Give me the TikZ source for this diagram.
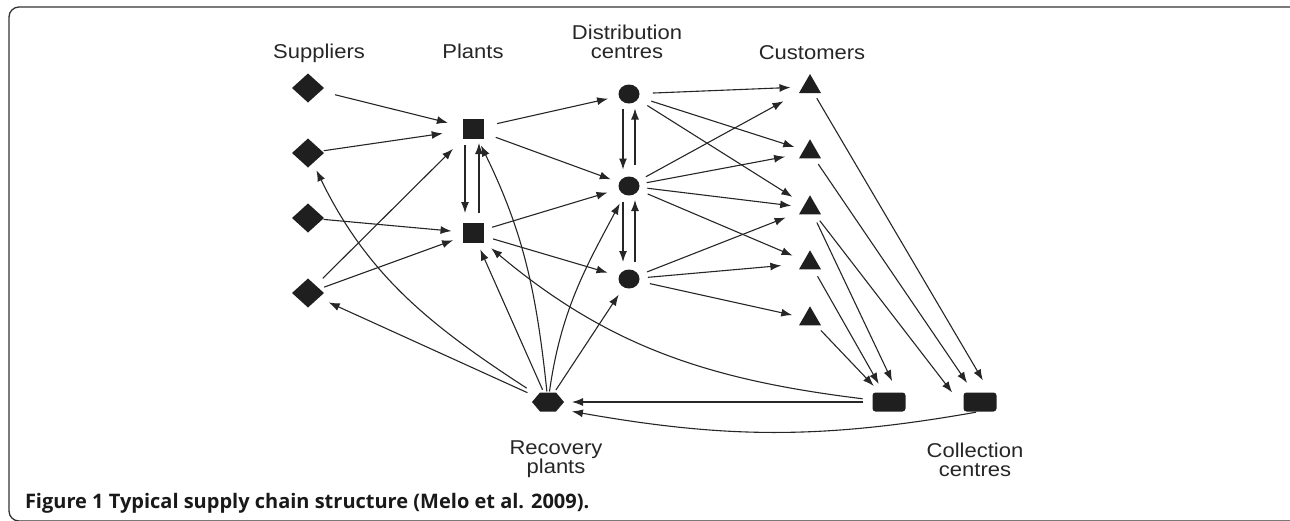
\documentclass[tikz,border=0pt]{standalone}
\usepackage{fontspec}
\usetikzlibrary{shapes.geometric,arrows.meta}
\newfontfamily\labfont[FakeStretch=1.1]{Liberation Sans}
\newfontfamily\capfont{Open Sans}
\newcommand\labsetup{\labfont\fontsize{20}{19}\selectfont}
\begin{document}
\begin{tikzpicture}[x=1pt,y=1pt,
  every node/.style={inner sep=0pt, outer sep=0pt},
  shp/.style={fill=black!88, draw=none},
  sup/.style={shp, diamond, minimum width=32pt, minimum height=29pt},
  plant/.style={shp, rectangle, minimum width=21pt, minimum height=20pt},
  dc/.style={shp, ellipse, minimum width=21pt, minimum height=19pt},
  cust/.style={shp, regular polygon, regular polygon sides=3, minimum size=25.4pt},
  coll/.style={shp, rectangle, rounded corners=3pt, minimum width=33pt, minimum height=19pt},
  hexa/.style={minimum width=32pt, minimum height=19pt},
  lab/.style={font=\labsetup, align=center, text=black!85},
  flow/.style={-{Latex[length=11pt,width=8pt]}, line width=1.1pt, draw=black!85, shorten <=10pt, shorten >=12pt},
]
\useasboundingbox (0,0) rectangle (1290,-520);
\begin{scope}
  \clip (0,0) rectangle (1290,-520);
  \draw[line width=1.3pt, black!80, rounded corners=10pt] (1310,-7) -- (9,-7) -- (9,-521) -- (1310,-521);
\end{scope}

% labels
\node[lab, anchor=base] (lSup) at (319,-58) {Suppliers};
\node[lab, anchor=base] (lPla) at (473,-58) {Plants};
\node[lab, anchor=north] (lDis) at (627,-25) {Distribution\\centres};
\node[lab, anchor=base] (lCus) at (812,-59) {Customers};
\node[lab, anchor=north] (lRec) at (556,-441) {Recovery\\plants};
\node[lab, anchor=north] (lCol) at (975,-443) {Collection\\centres};
\node[anchor=base west, font=\capfont\bfseries\fontsize{20}{24}\selectfont, text=black!90] (cap) at (25,-508) {Figure 1 Typical supply chain structure (Melo et al. 2009).};

% nodes
\node[sup] (S1) at (308,-88) {};
\node[sup] (S2) at (308,-153) {};
\node[sup] (S3) at (308,-218) {};
\node[sup] (S4) at (308,-293) {};
\node[plant] (P1) at (473,-129) {};
\node[plant] (P2) at (473,-233) {};
\node[dc] (D1) at (629,-94) {};
\node[dc] (D2) at (629,-186) {};
\node[dc] (D3) at (629,-279) {};
\node[cust] (T1) at (810,-86.7) {};
\node[cust] (T2) at (810,-152) {};
\node[cust] (T3) at (810,-208) {};
\node[cust] (T4) at (810,-263) {};
\node[cust] (T5) at (810,-319) {};
\node[coll] (C1) at (889,-402) {};
\node[coll] (C2) at (980,-402) {};
\node[hexa] (R) at (548,-402) {};
\fill[black!88] (R.west) -- ([xshift=8pt]R.north west) -- ([xshift=-8pt]R.north east) -- (R.east)
  -- ([xshift=-8pt]R.south east) -- ([xshift=8pt]R.south west) -- cycle;

% suppliers -> plants
\draw[flow, shorten <=15pt, shorten >=15pt] (S1) -- (P1);
\draw[flow, shorten <=2pt, shorten >=20pt] (S2) -- (P1);
\draw[flow, shorten <=1pt, shorten >=11pt] (S3) -- (P2);
\draw[flow, shorten <=10pt, shorten >=14pt] (S4) -- (P1);
\draw[flow, shorten <=5pt, shorten >=10pt] (S4) -- (P2);

% recovery -> suppliers
\draw[flow, shorten <=8pt, shorten >=8pt] (R) to[out=147,in=-64] (S2);
\draw[flow, shorten <=5pt, shorten >=11pt] (R) -- (S4);

% plants <-> plants
\draw[flow, shorten <=6pt, shorten >=10pt] ([xshift=-8pt]P1.south) -- ([xshift=-8pt]P2.north);
\draw[flow, shorten <=10pt, shorten >=4pt] ([xshift=6pt]P2.north) -- ([xshift=6pt]P1.south);

% plants -> DCs
\draw[flow, shorten <=14pt, shorten >=11pt] (P1) -- (D1);
\draw[flow, shorten <=13pt, shorten >=9pt] (P1) -- (D2);
\draw[flow, shorten <=9pt, shorten >=12pt] (P2) -- (D2);
\draw[flow, shorten <=10pt, shorten >=12pt] (P2) -- (D3);

% recovery -> plants / DCs
\draw[flow, shorten <=1pt, shorten >=7pt] (R) to[out=96,in=-64] (P1);
\draw[flow, shorten <=3pt, shorten >=7pt] (R) -- (P2);
\draw[flow, shorten <=1pt, shorten >=10pt] (R) to[out=82,in=-118] (D2);
\draw[flow, shorten <=3pt, shorten >=9pt] (R) -- (D3);

% collection -> plants / recovery
\draw[flow, shorten <=10pt, shorten >=10pt] (C1) to[out=173,in=-40] (P2);
\draw[flow, shorten <=10pt, shorten >=8pt] (C1) -- (R);
\draw[flow, shorten <=4pt, shorten >=8pt] (C2.south) to[out=190,in=-10] ([yshift=-8pt]R.east);

% DC <-> DC
\draw[flow, shorten <=5pt, shorten >=7pt] ([xshift=-6pt]D1.south) -- ([xshift=-6pt]D2.north);
\draw[flow, shorten <=12pt, shorten >=5pt] ([xshift=6pt]D2.north) -- ([xshift=6pt]D1.south);
\draw[flow, shorten <=6.5pt, shorten >=7.5pt] ([xshift=-6pt]D2.south) -- ([xshift=-6pt]D3.north);
\draw[flow, shorten <=7.5pt, shorten >=4.5pt] ([xshift=6pt]D3.north) -- ([xshift=6pt]D2.south);

% DCs -> customers
\draw[flow, shorten <=13.5pt, shorten >=12pt] (D1) -- (T1);
\draw[flow, shorten <=13pt, shorten >=10pt] (D1) -- (T2);
\draw[flow, shorten <=11.5pt, shorten >=14.5pt] (D1) -- (T3);
\draw[flow, shorten <=9pt, shorten >=18pt] (D2) -- (T1);
\draw[flow, shorten <=7.5pt, shorten >=17pt] (D2) -- (T2);
\draw[flow, shorten <=8pt, shorten >=12pt] (D2) -- (T3);
\draw[flow, shorten <=10pt, shorten >=12.5pt] (D2) -- (T4);
\draw[flow, shorten <=9pt, shorten >=16pt] (D3) -- (T3);
\draw[flow, shorten <=8.5pt, shorten >=21pt] (D3) -- (T4);
\draw[flow, shorten <=11pt, shorten >=11.5pt] (D3) -- (T5);

% customers -> collection
\draw[flow, shorten <=6pt, shorten >=14pt] (T1) -- ([xshift=10pt]C2.north);
\draw[flow, shorten <=7pt, shorten >=11.5pt] (T2) -- (C2);
\draw[flow, shorten <=8pt, shorten >=12pt] (T3) -- ([xshift=-4pt]C2.west);
\draw[flow, shorten <=9pt, shorten >=12.5pt] (T3) -- ([xshift=8.5pt]C1.north);
\draw[flow, shorten <=8pt, shorten >=10pt] (T4) -- (C1);
\draw[flow, shorten <=7pt, shorten >=9pt] (T5) -- (C1);
\end{tikzpicture}
\end{document}
